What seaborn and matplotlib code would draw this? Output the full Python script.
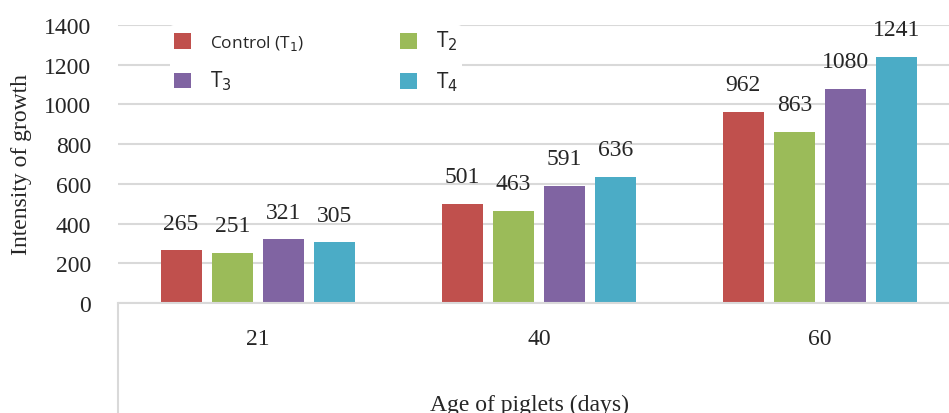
import numpy as np
import pandas as pd
import matplotlib.pyplot as plt
import seaborn as sns
from matplotlib.lines import Line2D

sns.set_style("white")

# dados
idades = ['21', '40', '60']
tratamentos = ['Control (T$_1$)', 'T$_2$', 'T$_3$', 'T$_4$']
valores = {
    'Control (T$_1$)': [265, 501, 962],
    'T$_2$': [251, 463, 863],
    'T$_3$': [321, 591, 1080],
    'T$_4$': [305, 636, 1241],
}
cores = ['#C0504D', '#9BBB59', '#8064A2', '#4BACC6']

linhas = []
for t in tratamentos:
    for idade, v in zip(idades, valores[t]):
        linhas.append({'idade': idade, 'tratamento': t, 'valor': v})
df = pd.DataFrame(linhas)

serif = ['Liberation Serif', 'DejaVu Serif']

fig = plt.figure(figsize=(9.49, 4.14), dpi=100)
ax = fig.add_axes([117.5 / 949, 1 - 304 / 414, 843 / 949, (304 - 26) / 414])

sns.barplot(data=df, x='idade', y='valor', hue='tratamento', palette=cores,
            width=0.73, gap=0.2, ax=ax, saturation=1, legend=True, linewidth=0)

for c in ax.containers:
    ax.bar_label(c, fmt='%d', padding=12, fontsize=17, family=serif)

ax.set_ylim(0, 1400)
ax.set_xlim(-0.5, 2.5)
ax.set_yticks(range(0, 1401, 200))
ax.yaxis.grid(True, color='#D9D9D9', linewidth=1.5)
ax.set_axisbelow(True)
for s in ['top', 'right', 'left']:
    ax.spines[s].set_visible(False)
ax.spines['bottom'].set_color('#D9D9D9')
ax.spines['bottom'].set_linewidth(1.5)
ax.tick_params(axis='both', length=0)
ax.tick_params(axis='y', pad=19)
ax.tick_params(axis='x', pad=18)
for lbl in ax.get_yticklabels() + ax.get_xticklabels():
    lbl.set_family(serif)
    lbl.set_fontsize(17)

ax.set_xlabel('')
ax.set_ylabel('')
fig.text(22 / 949, 1 - 165 / 414, 'Intensity of growth', rotation=90,
         ha='center', va='center', fontsize=17, family=serif)
fig.text(530 / 949, 1 - 405 / 414, 'Age of piglets (days)',
         ha='center', va='center', fontsize=17, family=serif)

# linha vertical do eixo de categorias
fig.add_artist(Line2D([118 / 949, 118 / 949], [1 - 304 / 414, 0],
                      transform=fig.transFigure, color='#D9D9D9', linewidth=1.5))

# legenda (ordem por linha: Control, T2 / T3, T4)
h, l = ax.get_legend_handles_labels()
ordem = [0, 2, 1, 3]
leg = ax.legend([h[i] for i in ordem], [l[i] for i in ordem], ncol=2,
                loc='upper left', bbox_to_anchor=(44 / 843, 1.03),
                frameon=True, facecolor='white', edgecolor='none', framealpha=1,
                handlelength=1.0, handleheight=1.0, columnspacing=5.5,
                labelspacing=0.95, handletextpad=1.1, borderpad=0.2,
                prop={'family': ['Open Sans', 'DejaVu Sans'], 'size': 12.5})
for txt in leg.get_texts():
    if not txt.get_text().startswith('Control'):
        txt.set_fontsize(15)

fig.savefig('out.png', dpi=100)
